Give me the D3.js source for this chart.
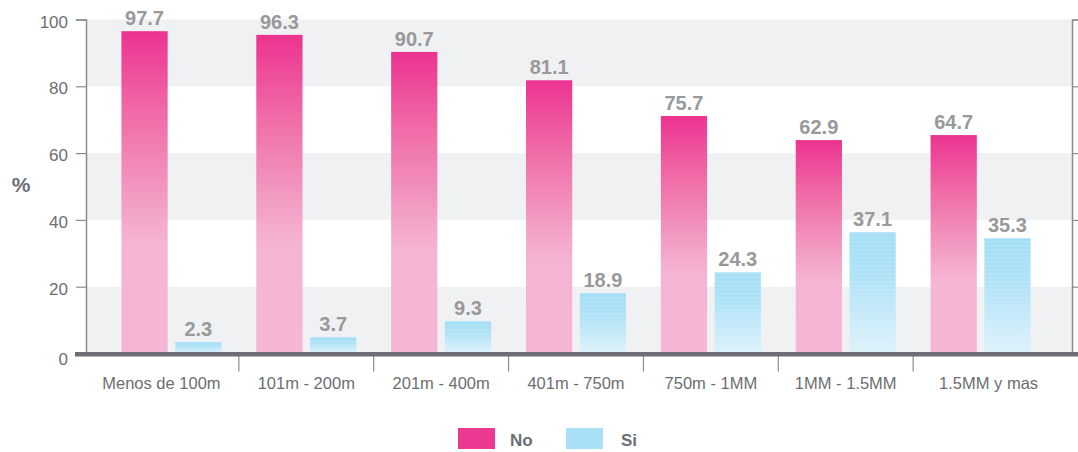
<!DOCTYPE html>
<html>
<head>
<meta charset="utf-8">
<script src="https://cdn.jsdelivr.net/npm/d3@7"></script>
<style>
  html, body { margin: 0; padding: 0; background: #fff; }
  svg { display: block; font-family: "Liberation Sans", Arial, sans-serif; }
</style>
</head>
<body>
<svg id="chart" width="1078" height="452"></svg>
<script>
// ---- data ----
const categories = ["Menos de 100m", "101m - 200m", "201m - 400m", "401m - 750m", "750m - 1MM", "1MM - 1.5MM", "1.5MM y mas"];
const seriesNames = ["No", "Si"];
// printed value labels
const noLabels = [97.7, 96.3, 90.7, 81.1, 75.7, 62.9, 64.7];
const siLabels = [2.3, 3.7, 9.3, 18.9, 24.3, 37.1, 35.3];
// bar heights as drawn in the picture
const noBars = [96.5, 95.4, 90.3, 81.8, 71.1, 63.9, 65.4];
const siBars = [3.4, 4.9, 9.7, 18.1, 24.3, 36.3, 34.5];
const yTicks = [0, 20, 40, 60, 80, 100];
const yLabel = "%";

const svg = d3.select("#chart");
const axisLeftX = 86, axisRightX = 1072;
const y = d3.scaleLinear().domain([0, 100]).range([353.5, 19.5]);
const x = d3.scaleBand().domain(categories).range([104, 1048]).paddingInner(0).paddingOuter(0);
const xs = d3.scaleBand().domain(seriesNames).range([0, 100]).paddingInner(0.14);

// gradients
const defs = svg.append("defs");
const gNo = defs.append("linearGradient").attr("id", "gNo").attr("x1", 0).attr("y1", 0).attr("x2", 0).attr("y2", 1);
gNo.append("stop").attr("offset", 0).attr("stop-color", "#ec3390");
gNo.append("stop").attr("offset", 0.25).attr("stop-color", "#f06aa6");
gNo.append("stop").attr("offset", 0.5).attr("stop-color", "#f299c2");
gNo.append("stop").attr("offset", 0.66).attr("stop-color", "#f5b4d4");
gNo.append("stop").attr("offset", 1).attr("stop-color", "#f5b6d5");
const gSi = defs.append("linearGradient").attr("id", "gSi").attr("x1", 0).attr("y1", 0).attr("x2", 0).attr("y2", 1);
gSi.append("stop").attr("offset", 0).attr("stop-color", "#a5def6");
gSi.append("stop").attr("offset", 0.35).attr("stop-color", "#aee2f7");
gSi.append("stop").attr("offset", 1).attr("stop-color", "#ddf2fb");
const pat = defs.append("pattern").attr("id", "stripes").attr("patternUnits", "userSpaceOnUse")
  .attr("width", 8).attr("height", 4);
pat.append("rect").attr("x", 0).attr("y", 1).attr("width", 8).attr("height", 1).attr("fill", "#ffffff").attr("opacity", 0.14);

// background bands
const bandPairs = d3.pairs(yTicks);
svg.append("g").selectAll("rect").data(bandPairs).join("rect")
  .attr("x", axisLeftX).attr("width", axisRightX - axisLeftX)
  .attr("y", d => y(d[1])).attr("height", d => y(d[0]) - y(d[1]))
  .attr("fill", (d, i) => i % 2 === 0 ? "#f0f1f3" : "#ffffff");

// left axis
const left = svg.append("g").attr("transform", `translate(${axisLeftX},0)`)
  .call(d3.axisLeft(y).tickValues(yTicks).tickSize(10).tickPadding(8));
left.select(".domain").attr("stroke", "#8c8c8c").attr("stroke-width", 1.5);
left.selectAll(".tick line").attr("stroke", "#8c8c8c").attr("stroke-width", 1.2);
left.selectAll(".tick text").attr("fill", "#6d6e71").attr("font-size", "17px")
  .attr("font-family", "Liberation Sans, Arial, sans-serif").attr("dy", d => d === 0 ? "0.62em" : "0.45em");

// right axis
const right = svg.append("g").attr("transform", `translate(${axisRightX},0)`)
  .call(d3.axisRight(y).tickValues(yTicks).tickSize(6).tickFormat(""));
right.select(".domain").attr("stroke", "#8c8c8c").attr("stroke-width", 1.5);
right.selectAll(".tick line").attr("stroke", "#8c8c8c").attr("stroke-width", 1.2);

// y label
svg.append("text").attr("x", 21).attr("y", 192).attr("text-anchor", "middle")
  .attr("font-size", "21px").attr("font-weight", "bold").attr("fill", "#6d6e71").text(yLabel);

// bars
const rows = categories.map((c, i) => ({
  cat: c,
  items: [
    { s: "No", v: noBars[i], lab: noLabels[i] },
    { s: "Si", v: siBars[i], lab: siLabels[i] }
  ]
}));
const pairW = 100;
const groups = svg.append("g").selectAll("g").data(rows).join("g")
  .attr("transform", d => `translate(${x(d.cat) + x.bandwidth() / 2 - pairW / 2},0)`);
groups.selectAll("rect.bar").data(d => d.items).join("rect").attr("class", "bar")
  .attr("x", d => xs(d.s)).attr("width", xs.bandwidth())
  .attr("y", d => y(d.v)).attr("height", d => y(0) - y(d.v))
  .attr("fill", d => d.s === "No" ? "url(#gNo)" : "url(#gSi)");
groups.selectAll("rect.stripe").data(d => d.items.filter(e => e.s === "Si")).join("rect").attr("class", "stripe")
  .attr("x", d => xs(d.s)).attr("width", xs.bandwidth())
  .attr("y", d => y(d.v)).attr("height", d => y(0) - y(d.v))
  .attr("fill", "url(#stripes)");
groups.selectAll("text.val").data(d => d.items).join("text").attr("class", "val")
  .attr("x", d => xs(d.s) + xs.bandwidth() / 2).attr("y", d => y(d.v) - 6)
  .attr("text-anchor", "middle").attr("font-size", "20px").attr("font-weight", "bold")
  .attr("fill", "#98999b").text(d => d3.format(".1f")(d.lab));

// x axis (category ticks + labels)
const xAxisG = svg.append("g").attr("transform", `translate(0,${y(0)})`);
const bounds = categories.slice(1).map(c => x(c));
xAxisG.selectAll("line.sep").data(bounds).join("line").attr("class", "sep")
  .attr("x1", d => d).attr("x2", d => d).attr("y1", 2).attr("y2", 18)
  .attr("stroke", "#8c8c8c").attr("stroke-width", 1.2);
const n = categories.length;
xAxisG.selectAll("text.cat").data(categories).join("text").attr("class", "cat")
  .attr("x", (d, i) => x(d) + x.bandwidth() / 2 + (i === 0 ? -10 : i === n - 1 ? 8 : 0)).attr("y", 35)
  .attr("text-anchor", "middle").attr("font-size", "16.5px").attr("fill", "#6d6e71").text(d => d);
// baseline
svg.append("line").attr("x1", 75).attr("x2", 1078).attr("y1", y(0) + 0.8).attr("y2", y(0) + 0.8)
  .attr("stroke", "#6d6e71").attr("stroke-width", 4.5);

// legend
const legendColors = { No: "#ec3a92", Si: "#a8e0f8" };
const legendX = [458, 566];
const lg = svg.append("g").selectAll("g").data(seriesNames).join("g")
  .attr("transform", (d, i) => `translate(${legendX[i]},428)`);
lg.append("rect").attr("width", 37).attr("height", 21).attr("fill", d => legendColors[d]);
lg.append("text").attr("x", d => d === "No" ? 52 : 55).attr("y", 17.5)
  .attr("font-size", "17px").attr("font-weight", "bold").attr("fill", "#6d6e71").text(d => d);
</script>
</body>
</html>
